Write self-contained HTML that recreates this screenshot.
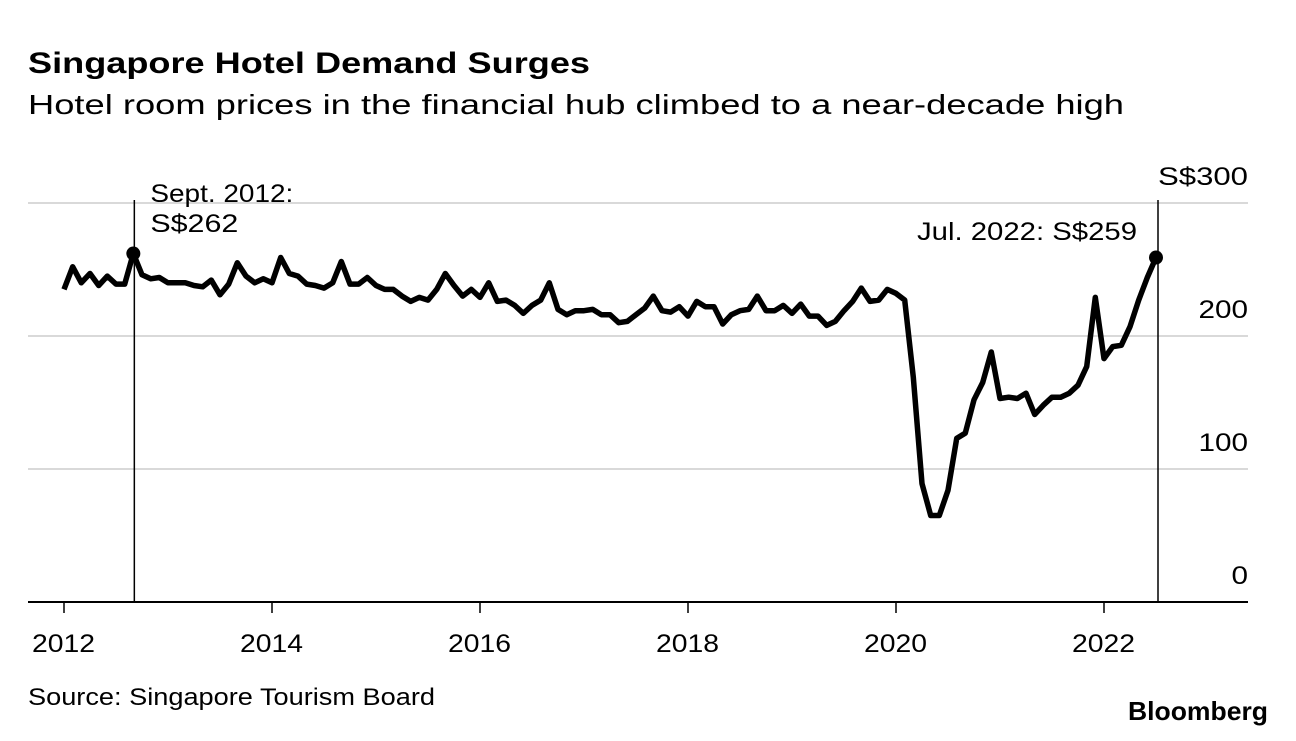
<!DOCTYPE html>
<html><head><meta charset="utf-8"><style>
body{margin:0;background:#fff;width:1296px;height:736px;overflow:hidden;font-family:"Liberation Sans",sans-serif;}
svg text{font-family:"Liberation Sans",sans-serif;}
</style></head><body>
<svg id="chart" width="1296" height="736" xmlns="http://www.w3.org/2000/svg">
<text x="28" y="73" font-size="30" font-weight="bold" textLength="562" lengthAdjust="spacingAndGlyphs">Singapore Hotel Demand Surges</text>
<text x="28" y="114" font-size="28" textLength="1096" lengthAdjust="spacingAndGlyphs">Hotel room prices in the financial hub climbed to a near-decade high</text>
<g id="grid"></g>
<g id="xaxis"></g>
<g id="annot"></g>
<path id="line" fill="none" stroke="#000" stroke-width="5.5" stroke-linejoin="round"/>
<text x="28" y="705" font-size="24" textLength="407" lengthAdjust="spacingAndGlyphs">Source: Singapore Tourism Board</text>
<text x="1128" y="720" font-size="26" font-weight="bold" textLength="140" lengthAdjust="spacingAndGlyphs">Bloomberg</text>
</svg>
<script>
const startYear = 2012;
const prices = [
235,252,240,247,238,245,239,239,262,246,243,244,
240,240,240,238,237,242,231,239,255,245,240,243,
240,259,247,245,239,238,236,240,256,239,239,244,
238,235,235,230,226,229,227,235,247,238,230,235,
229,240,226,227,223,217,223,227,240,220,216,219,
219,220,216,216,210,211,216,221,230,219,218,222,
215,226,222,222,209,216,219,220,230,219,219,223,
217,224,215,215,208,211,219,226,236,226,227,235,
232,227,169,89,65,65,84,123,127,152,165,188,
153,154,153,157,141,148,154,154,157,163,177,229,
183,192,193,207,227,244,259
];
const yTicks = [0,100,200,300];
const yTickLabels = ["0","100","200","S$300"];
const xTicks = [2012,2014,2016,2018,2020,2022];
const annotations = [{idx:8,label:["Sept. 2012:","S$262"]},{idx:126,label:["Jul. 2022: S$259"]}];

const NS="http://www.w3.org/2000/svg";
const xScale = i => 64 + i*104/12;
const yearX = y => 64 + (y-startYear)*104;
const yScale = v => 602 - v*1.33;
function mk(tag,attrs,parent){const e=document.createElementNS(NS,tag);for(const k in attrs)e.setAttribute(k,attrs[k]);parent.appendChild(e);return e;}
const charW = 16.5;
const grid=document.getElementById('grid');
yTicks.forEach((t,i)=>{
  if(t>0){const l=mk('line',{x1:28,x2:1248,y1:yScale(t),y2:yScale(t),stroke:'#d9d9d9','stroke-width':2},grid);
  
  }
  const s=yTickLabels[i];
  const w=s.length==5?90:s.length*charW;
  const tx=mk('text',{x:1248-w,y:yScale(t)-18,'font-size':25,textLength:w,lengthAdjust:'spacingAndGlyphs'},grid);
  tx.textContent=s;
  
  
});
const xa=document.getElementById('xaxis');
const base=mk('line',{x1:28,x2:1248,y1:602,y2:602,stroke:'#000','stroke-width':2},xa);


xTicks.forEach(y=>{
  const tk=mk('line',{x1:yearX(y),x2:yearX(y),y1:602,y2:613,stroke:'#000','stroke-width':1.5},xa);
  
  
  const tx=mk('text',{x:yearX(y)-32,y:652,'font-size':25,textLength:63,lengthAdjust:'spacingAndGlyphs'},xa);
  tx.textContent=y;
  
  
});
document.getElementById('line').setAttribute('d',prices.map((v,i)=>(i?'L':'M')+xScale(i).toFixed(1)+','+yScale(v).toFixed(1)).join(''));
const an=document.getElementById('annot');
annotations.forEach((a,k)=>{
  const x=xScale(a.idx)+(k==0?1:2);
  const vl=mk('line',{x1:x,x2:x,y1:200,y2:602,stroke:'#000','stroke-width':1.5},an);
  
  
  const c=mk('circle',{cx:xScale(a.idx),cy:yScale(prices[a.idx]),r:7,fill:'#000'},an);
  
  
  a.label.forEach((s,j)=>{
    const t=k==0?mk('text',{x:x+16,y:202+j*30,'font-size':25,textLength:(j==0?143:88),lengthAdjust:'spacingAndGlyphs'},an):mk('text',{x:x-241,y:240,'font-size':25,textLength:220,lengthAdjust:'spacingAndGlyphs'},an);
    t.textContent=s;
    
    
  });
});
</script>
</body></html>
